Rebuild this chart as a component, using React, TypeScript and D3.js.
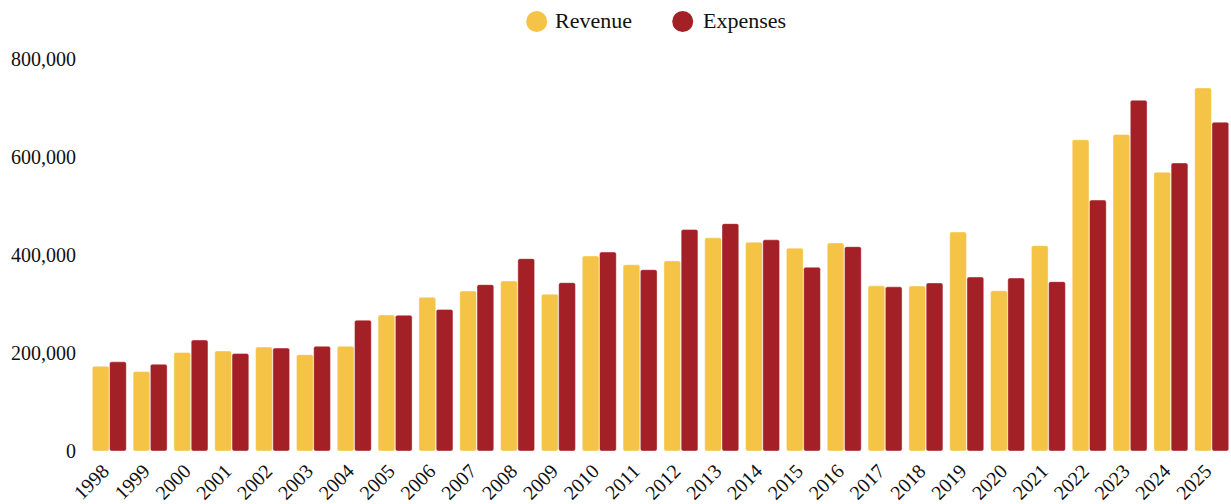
import React from "react";
import * as d3 from "d3";

const years: string[] = [
  "1998","1999","2000","2001","2002","2003","2004","2005","2006","2007",
  "2008","2009","2010","2011","2012","2013","2014","2015","2016","2017",
  "2018","2019","2020","2021","2022","2023","2024","2025",
];

const revenue: number[] = [
  173000, 162000, 201000, 204000, 212000, 196500, 213600, 277500, 313600, 326500,
  347000, 320000, 398000, 380000, 388000, 435000, 426000, 414000, 424500, 337000,
  336700, 447000, 327000, 419000, 635000, 646000, 569000, 741000,
];

const expenses: number[] = [
  182000, 177000, 226500, 199000, 210000, 213600, 267000, 277000, 289000, 339500,
  392500, 343500, 406000, 370000, 452000, 464000, 431000, 375000, 417000, 335000,
  343000, 355000, 353000, 345600, 512000, 715700, 587800, 671000,
];

const seriesNames: string[] = ["Revenue", "Expenses"];
const seriesColors: string[] = ["#F5C446", "#A32026"];
const yTicks: number[] = [0, 200000, 400000, 600000, 800000];

const W = 1231;
const H = 504;
const FONT = "'Liberation Serif', 'DejaVu Serif', serif";

export default function App() {
  const x = d3.scaleBand<string>().domain(years).range([88, 1233]).paddingInner(0.167).paddingOuter(0.105);
  const xInner = d3.scaleBand<string>().domain(seriesNames).range([0, x.bandwidth()]).paddingInner(0.03);
  const y = d3.scaleLinear().domain([0, 800000]).range([451, 59]);
  const fmt = d3.format(",");
  const seriesValues = [revenue, expenses];

  const legendPos = [
    { cx: 536.7, tx: 555 },
    { cx: 682.7, tx: 703 },
  ];

  return (
    <svg
      width={W}
      height={H}
      style={{ position: "absolute", left: 0, top: 0, display: "block", background: "#fff" }}
      fontFamily={FONT}
    >
      {/* legend */}
      {seriesNames.map((name, i) => (
        <g key={name}>
          <circle cx={legendPos[i].cx} cy={21.5} r={10.5} fill={seriesColors[i]} />
          <text x={legendPos[i].tx} y={28} fontSize={22} fill="#111">
            {name}
          </text>
        </g>
      ))}

      {/* y axis labels */}
      {yTicks.map((t) => (
        <text key={t} x={76} y={y(t)} dy="0.35em" textAnchor="end" fontSize={20} fill="#111">
          {fmt(t)}
        </text>
      ))}

      {/* bars */}
      {years.map((yr, i) => (
        <g key={yr} transform={`translate(${x(yr)},0)`}>
          {seriesNames.map((s, j) => {
            const v = seriesValues[j][i];
            const top = y(v);
            return (
              <rect
                key={s}
                x={xInner(s)}
                y={top}
                width={xInner.bandwidth()}
                height={y(0) - top}
                rx={2}
                ry={2}
                fill={seriesColors[j]}
                stroke="#ffffff"
                strokeOpacity={0.5}
                strokeWidth={0.8}
              />
            );
          })}
        </g>
      ))}

      {/* x axis labels */}
      {years.map((yr) => {
        const cx = (x(yr) as number) + x.bandwidth() / 2 + 1;
        const cy = 472.5;
        return (
          <text
            key={yr}
            x={cx}
            y={cy}
            transform={`rotate(-45 ${cx} ${cy})`}
            textAnchor="end"
            fontSize={20}
            fill="#111"
          >
            {yr}
          </text>
        );
      })}
    </svg>
  );
}
